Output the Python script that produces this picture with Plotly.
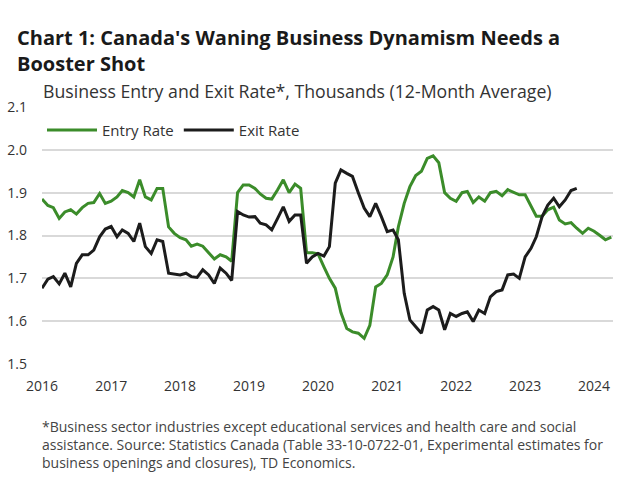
import pandas as pd
import plotly.graph_objects as go

months_entry = pd.date_range("2016-01-01", periods=100, freq="MS")
months_exit = pd.date_range("2016-01-01", periods=94, freq="MS")

entry_rate = [
    1.885, 1.870, 1.865, 1.840, 1.855, 1.860, 1.850, 1.865, 1.875, 1.877,
    1.898, 1.875, 1.880, 1.890, 1.905, 1.900, 1.890, 1.930, 1.890, 1.883,
    1.910, 1.910, 1.820, 1.805, 1.795, 1.790, 1.775, 1.780, 1.775, 1.760,
    1.745, 1.755, 1.750, 1.740, 1.900, 1.918, 1.918, 1.910, 1.897, 1.887,
    1.885, 1.907, 1.930, 1.900, 1.920, 1.910, 1.760, 1.760, 1.757, 1.727,
    1.700, 1.677, 1.620, 1.583, 1.575, 1.572, 1.560, 1.590, 1.680, 1.688,
    1.708, 1.750, 1.820, 1.875, 1.914, 1.940, 1.950, 1.980, 1.986, 1.970,
    1.900, 1.887, 1.880, 1.900, 1.903, 1.877, 1.890, 1.880, 1.900, 1.903,
    1.893, 1.907, 1.900, 1.895, 1.895, 1.870, 1.845, 1.845, 1.860, 1.866,
    1.836, 1.827, 1.830, 1.817, 1.805, 1.817, 1.810, 1.800, 1.790, 1.796,
]

exit_rate = [
    1.677, 1.698, 1.704, 1.687, 1.712, 1.680, 1.735, 1.755, 1.755, 1.766,
    1.797, 1.815, 1.821, 1.797, 1.813, 1.805, 1.786, 1.829, 1.774, 1.758,
    1.790, 1.786, 1.712, 1.710, 1.708, 1.712, 1.704, 1.702, 1.720, 1.708,
    1.688, 1.724, 1.712, 1.695, 1.856, 1.848, 1.843, 1.844, 1.829, 1.825,
    1.813, 1.840, 1.867, 1.833, 1.848, 1.848, 1.735, 1.750, 1.758, 1.752,
    1.774, 1.922, 1.953, 1.945, 1.938, 1.900, 1.864, 1.844, 1.875, 1.844,
    1.809, 1.813, 1.790, 1.665, 1.603, 1.587, 1.572, 1.626, 1.634, 1.626,
    1.580, 1.618, 1.611, 1.618, 1.622, 1.599, 1.626, 1.618, 1.657, 1.669,
    1.673, 1.708, 1.710, 1.700, 1.750, 1.770, 1.797, 1.844, 1.871, 1.887,
    1.867, 1.883, 1.905, 1.910,
]

year_ticks = [f"{y}-01-01" for y in range(2016, 2025)]
year_labels = [str(y) for y in range(2016, 2025)]
y_ticks = [1.5, 1.6, 1.7, 1.8, 1.9, 2.0, 2.1]

title_text = "<b>Chart 1: Canada's Waning Business Dynamism Needs a<br>Booster Shot</b>"
subtitle_text = "Business Entry and Exit Rate*, Thousands (12-Month Average)"
footnote_text = ("*Business sector industries except educational services and health care and social<br>"
                 "assistance. Source: Statistics Canada (Table 33-10-0722-01, Experimental estimates for<br>"
                 "business openings and closures), TD Economics.")

FONT = "Open Sans"

fig = go.Figure()
fig.add_trace(go.Scatter(x=months_entry, y=entry_rate, mode="lines", name="Entry Rate",
                         line=dict(color="#3b8c2a", width=3)))
fig.add_trace(go.Scatter(x=months_exit, y=exit_rate, mode="lines", name="Exit Rate",
                         line=dict(color="#1c1c1c", width=3)))

fig.update_layout(
    width=640, height=480,
    margin=dict(l=42, r=27, t=107, b=116),
    paper_bgcolor="white", plot_bgcolor="white",
    font=dict(family=FONT, color="#333333"),
    showlegend=True,
    legend=dict(orientation="h", x=0.0, y=0.91, xanchor="left", yanchor="middle",
                font=dict(size=15, color="#333333"), bgcolor="rgba(0,0,0,0)",
                itemwidth=50, tracegroupgap=0),
    xaxis=dict(range=["2016-01-01", "2024-04-10"], tickvals=year_ticks, ticktext=year_labels,
               showgrid=False, showline=False, zeroline=False, ticks="", automargin=False,
               tickfont=dict(size=14, color="#333333"), ticklabelstandoff=12),
    yaxis=dict(range=[1.5, 2.1], tickvals=y_ticks, tickformat=".1f", automargin=False,
               showgrid=True, gridcolor="#d9d9d9", gridwidth=1.5, zeroline=False, showline=False,
               ticks="", tickfont=dict(size=14, color="#333333"), ticklabelstandoff=14),
    annotations=[
        dict(text=title_text, xref="paper", yref="paper", x=-0.0473, y=1.33, xanchor="left",
             yanchor="top", showarrow=False, align="left",
             font=dict(size=20, color="#1a1a1a", family=FONT)),
        dict(text=subtitle_text, xref="paper", yref="paper", x=-0.002, y=1.062, xanchor="left",
             yanchor="middle", showarrow=False, align="left",
             font=dict(size=17.7, color="#333333", family=FONT)),
        dict(text=footnote_text, xref="paper", yref="paper", x=-0.0035, y=-0.2, xanchor="left",
             yanchor="top", showarrow=False, align="left",
             font=dict(size=14, color="#444444", family=FONT)),
    ],
)

fig.write_html("out.html", config={"displayModeBar": False},
               post_script="document.body.style.margin='0';")
